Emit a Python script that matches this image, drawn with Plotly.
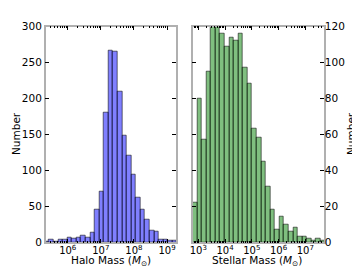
import numpy as np
import plotly.graph_objects as go

# ---- data ----
halo_counts = [1, 3, 1, 3, 3, 6, 5, 7, 9, 7, 14, 45, 71, 181, 267, 265, 210,
               149, 121, 94, 62, 45, 31, 16, 15, 4, 3, 2, 2]
halo_log_min, halo_log_bin = 5.30, 0.138          # log10(M) bin start / width

stellar_counts = [22, 80, 57, 95, 120, 120, 116, 109, 114, 112, 116, 97, 88,
                  63, 58, 45, 31, 18, 7, 14, 10, 6, 8, 3, 3, 2, 1, 2, 1]
stellar_log_min, stellar_log_bin = 2.79, 0.171

halo_ticks = [6, 7, 8, 9]
stellar_ticks = [3, 4, 5, 6, 7]
halo_yticks = [0, 50, 100, 150, 200, 250, 300]
stellar_yticks = [0, 20, 40, 60, 80, 100, 120]

# page offset (browser body margin) and figure size
OFF = 8
W, H = 360 - OFF, 270 - OFF


def fx(X):
    return (X - OFF) / W


def fy(Y):
    return 1 - (Y - OFF) / H


def centers(start, w, n):
    return [start + (i + 0.5) * w for i in range(n)]


def minor_vals(lo, hi):
    out = []
    for d in range(int(np.floor(lo)) - 1, int(np.ceil(hi)) + 1):
        for k in range(2, 10):
            v = d + np.log10(k)
            if lo <= v <= hi:
                out.append(v)
    return out


FONT = "DejaVu Sans"
FS = 10.5
fig = go.Figure()
fig.add_trace(go.Bar(
    x=centers(halo_log_min, halo_log_bin, len(halo_counts)), y=halo_counts,
    width=halo_log_bin, marker=dict(color="rgba(0,0,255,0.5)",
                                    line=dict(color="rgba(0,0,0,0.55)", width=1)),
    xaxis="x", yaxis="y", showlegend=False))
fig.add_trace(go.Bar(
    x=centers(stellar_log_min, stellar_log_bin, len(stellar_counts)), y=stellar_counts,
    width=stellar_log_bin, marker=dict(color="rgba(0,128,0,0.5)",
                                       line=dict(color="rgba(0,0,0,0.55)", width=1)),
    xaxis="x2", yaxis="y2", showlegend=False))

hx = [5.335, 9.27]
sx = [2.79, 7.70]
axcommon = dict(showgrid=False, zeroline=False, showline=True, linecolor="#b0b0b0",
                linewidth=1.5, ticks="inside", ticklen=4, tickcolor="black",
                tickwidth=1, mirror="ticks", automargin=False,
                tickfont=dict(family=FONT, size=FS, color="black"))
xfont = dict(family=FONT, size=10, color="black")
ydom = [fy(242.3), fy(26.7)]

fig.update_layout(
    width=W, height=H, margin=dict(l=0, r=0, t=0, b=0),
    paper_bgcolor="white", plot_bgcolor="white", bargap=0,
    font=dict(family=FONT, size=FS, color="black"),
    xaxis=dict(domain=[fx(45.7), fx(176)], range=hx, anchor="y",
               tickvals=halo_ticks, ticktext=[f"10<sup>{t}</sup>" for t in halo_ticks],
               minor=dict(tickvals=minor_vals(*hx), ticks="inside", ticklen=2,
                          tickcolor="black", showgrid=False),
               ticklabelstandoff=-2, **{**axcommon, "tickfont": xfont}),
    yaxis=dict(domain=ydom, range=[0, 300], anchor="x", tickvals=halo_yticks,
               **axcommon),
    xaxis2=dict(domain=[fx(192.7), fx(324)], range=sx, anchor="y2",
                tickvals=stellar_ticks,
                ticktext=[f"10<sup>{t}</sup>" for t in stellar_ticks],
                minor=dict(tickvals=minor_vals(*sx), ticks="inside", ticklen=2,
                           tickcolor="black", showgrid=False),
                ticklabelstandoff=-2, **{**axcommon, "tickfont": xfont}),
    yaxis2=dict(domain=ydom, range=[0, 120], anchor="x2", side="right",
                tickvals=stellar_yticks, ticklabelstandoff=-3, **axcommon),
)

titles = [
    ("Halo Mass (<i>M</i><sub>⊙</sub>)", 111.5, 260.5, 0),
    ("Stellar Mass (<i>M</i><sub>⊙</sub>)", 257, 260.5, 0),
    ("Number", 16, 134, -90),
    ("Number", 351, 134, -90),
]
for txt, X, Y, ang in titles:
    fig.add_annotation(text=txt, x=fx(X), y=fy(Y), xref="paper", yref="paper",
                       showarrow=False, textangle=ang, xanchor="center",
                       yanchor="middle", font=dict(family=FONT, size=FS, color="black"))

fig.write_html("out.html")
